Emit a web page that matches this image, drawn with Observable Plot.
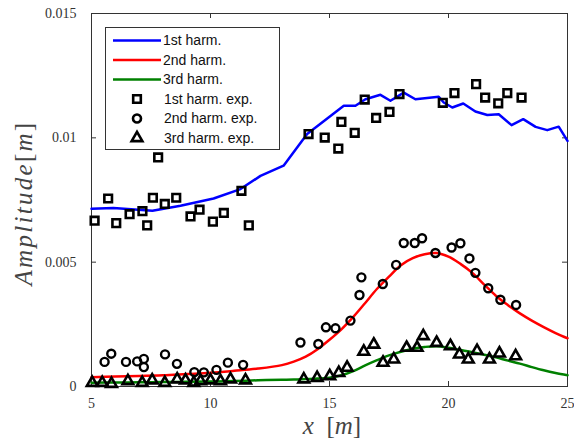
<!DOCTYPE html>
<html><head><meta charset="utf-8">
<script src="https://cdn.jsdelivr.net/npm/d3@7"></script>
<script src="https://cdn.jsdelivr.net/npm/@observablehq/plot@0.6"></script>
<style>body{margin:0;background:#fff}#chart{width:574px;height:445px}</style>
</head><body><div id="chart"></div>
<script>
// ---- data (amplitudes in m) ----
const xTicks = [5, 10, 15, 20, 25];
const yTicks = [0, 0.005, 0.01, 0.015];
const yTickLabels = ["0", "0.005", "0.01", "0.015"];

const sim1X = [5.0,5.92,7.56,8.74,10.13,11.26,12.10,13.07,14.06,15.60,16.09,16.51,17.14,17.56,18.12,18.61,19.59,19.80,20.16,20.62,21.13,21.63,22.11,22.65,23.14,23.66,24.15,24.63,25.0];
const sim1Y = [7.15,7.18,7.07,7.27,7.56,7.94,8.47,8.88,10.15,11.29,11.29,11.55,11.73,11.49,11.82,11.55,11.65,11.42,11.22,11.38,11.06,10.92,10.95,10.51,10.75,10.44,10.31,10.45,9.88].map(v => v / 1000);

const simX = [5,6,7,8,9,10,11,12,13,13.5,14,14.5,15,15.5,16,16.5,17,17.5,18,18.5,19,19.5,20,20.5,21,21.5,22,22.5,23,23.5,24,24.5,25];
const sim2Y = [0.37,0.40,0.42,0.45,0.50,0.55,0.63,0.72,0.86,1.00,1.20,1.50,1.88,2.30,2.80,3.36,3.93,4.42,4.88,5.16,5.32,5.37,5.22,4.93,4.57,4.10,3.64,3.27,2.94,2.65,2.39,2.15,1.94].map(v => v / 1000);
const sim3Y = [0.15,0.16,0.17,0.18,0.19,0.20,0.22,0.25,0.27,0.28,0.30,0.32,0.35,0.45,0.62,0.85,1.06,1.25,1.40,1.52,1.59,1.62,1.56,1.47,1.38,1.28,1.17,1.04,0.92,0.78,0.65,0.54,0.45].map(v => v / 1000);

const exp1X = [5.13,5.70,6.04,6.60,7.14,7.34,7.58,7.80,8.08,8.56,9.16,9.54,10.10,10.56,11.30,11.61,14.12,14.80,15.37,15.50,16.06,16.48,16.96,17.52,17.94,19.76,20.25,21.16,21.54,22.09,22.47,23.07];
const exp1Y = [6.67,7.56,6.57,6.93,7.05,6.48,7.59,9.21,7.34,7.59,6.84,7.11,6.63,6.98,7.87,6.48,10.15,10.01,9.57,10.64,10.20,11.54,10.80,11.04,11.76,11.41,11.80,12.16,11.62,11.39,11.80,11.62].map(v => v / 1000);

const exp2X = [5.55,5.83,6.45,6.92,7.20,7.20,8.09,8.59,9.32,9.72,10.25,10.73,11.37,13.78,14.53,14.85,15.25,15.88,16.26,16.34,17.24,17.80,18.12,18.58,18.89,19.45,20.13,20.50,20.88,21.13,21.67,22.18,22.84];
const exp2Y = [0.99,1.32,0.99,1.01,1.11,0.78,1.29,0.91,0.58,0.57,0.67,0.96,0.87,1.77,1.71,2.38,2.34,2.65,3.68,4.39,4.12,4.89,5.77,5.77,5.96,5.37,5.59,5.76,5.15,4.57,3.95,3.49,3.28].map(v => v / 1000);

const exp3X = [5.03,5.45,5.84,6.53,7.13,7.55,8.08,8.60,8.95,9.30,9.58,10.00,10.42,10.84,11.47,13.92,14.48,15.01,15.39,15.74,16.44,16.86,17.25,17.70,18.24,18.68,18.94,19.50,20.08,20.46,20.83,21.20,21.72,22.14,22.82];
const exp3Y = [0.15,0.15,0.11,0.22,0.15,0.25,0.15,0.29,0.25,0.15,0.22,0.25,0.22,0.29,0.25,0.29,0.35,0.42,0.55,0.76,1.40,1.69,0.96,1.09,1.56,1.56,2.03,1.76,1.63,1.29,1.09,1.43,1.09,1.33,1.22].map(v => v / 1000);

const legendLabels = ["1st harm.", "2nd harm.", "3rd harm.", "1st harm. exp.", "2nd harm. exp.", "3rd harm. exp."];
const lineColors = ["#0000ff", "#ff0000", "#008000"];
const symbols = ["square", "circle", "triangle"];
const xLabel = "x [m]";
const yLabel = "Amplitude[m]";

// ---- build ----
const zip = (xs, ys) => xs.map((x, i) => ({x, y: ys[i]}));
const W = 574, H = 445, mL = 91, mR = 7, mT = 13, mB = 59;
const plotW = W - mL - mR, plotH = H - mT - mB, tk = 5;
const axisCol = "#333";

const chart = Plot.plot({
  width: W, height: H,
  marginLeft: mL, marginRight: mR, marginTop: mT, marginBottom: mB,
  x: {domain: [5, 25], label: null},
  y: {domain: [0, 0.015], label: null},
  style: {fontFamily: "Liberation Serif", fontSize: "14px", color: axisCol, background: "#fff"},
  marks: [
    Plot.frame({stroke: axisCol, strokeWidth: 1}),
    Plot.tickX(xTicks, {x: d => d, insetTop: plotH - tk, stroke: axisCol}),
    Plot.tickX(xTicks, {x: d => d, insetBottom: plotH - tk, stroke: axisCol}),
    Plot.tickY(yTicks, {y: d => d, insetRight: plotW - tk, stroke: axisCol}),
    Plot.tickY(yTicks, {y: d => d, insetLeft: plotW - tk, stroke: axisCol}),
    Plot.axisX({ticks: xTicks, tickSize: 0, tickPadding: 12, tickFormat: d => String(d), fill: axisCol}),
    Plot.axisY({ticks: yTicks, tickSize: 0, tickPadding: 15, tickFormat: d => yTickLabels[yTicks.indexOf(d)], fill: axisCol}),
    Plot.line(zip(sim1X, sim1Y), {x: "x", y: "y", stroke: lineColors[0], strokeWidth: 2.5}),
    Plot.line(zip(simX, sim2Y), {x: "x", y: "y", stroke: lineColors[1], strokeWidth: 2.5, curve: "catmull-rom"}),
    Plot.line(zip(simX, sim3Y), {x: "x", y: "y", stroke: lineColors[2], strokeWidth: 2.5, curve: "catmull-rom"}),
    Plot.dot(zip(exp1X, exp1Y), {x: "x", y: "y", symbol: symbols[0], r: 4.3, stroke: "#000", strokeWidth: 2.6, fill: "none"}),
    Plot.dot(zip(exp2X, exp2Y), {x: "x", y: "y", symbol: symbols[1], r: 4, stroke: "#000", strokeWidth: 2.4, fill: "none"}),
    Plot.dot(zip(exp3X, exp3Y), {x: "x", y: "y", symbol: symbols[2], r: 4, stroke: "#000", strokeWidth: 2.6, fill: "none"}),
    Plot.text([yLabel], {text: d => d, frameAnchor: "left", dx: -68, dy: 4, rotate: -90, fontSize: 25, fontStyle: "italic", fontFamily: "Liberation Serif", fill: "#444"}),
    Plot.text([xLabel], {text: d => d, frameAnchor: "bottom", dx: 2, dy: 47, fontSize: 25, fontStyle: "italic", fontFamily: "Liberation Serif", fill: "#444"})
  ]
});
document.getElementById("chart").appendChild(chart);

const svg = d3.select(chart);
// mixed-style math labels, stretched to the reference's label lengths
svg.selectAll("text").each(function() {
  const t = this.textContent;
  if (t === yLabel || t === xLabel) {
    const isY = t === yLabel;
    const parts = isY
      ? [["Amplitude", "italic"], ["[", "normal"], ["m", "italic"], ["]", "normal"]]
      : [["x", "italic"], ["\u00a0\u00a0[", "normal"], ["m", "italic"], ["]", "normal"]];
    const el = d3.select(this);
    el.text(null).attr("text-anchor", "start").attr("x", 0);
    parts.forEach(([s, st]) => el.append("tspan").attr("font-style", st).text(s));
    const target = isY ? 167 : 58;
    const nChars = isY ? 12 : 6;
    const w0 = this.getBBox().width;
    el.attr("letter-spacing", Math.max(0, (target - w0) / nChars));
    const bb = this.getBBox();
    el.attr("x", -(bb.x + bb.width / 2));
  }
});

// legend
const lg = svg.append("g").attr("font-family", "Liberation Sans, Arial, sans-serif").attr("font-size", 14).attr("text-anchor", "start");
lg.append("rect").attr("x", 105.5).attr("y", 27.5).attr("width", 174).attr("height", 122)
  .attr("fill", "#fff").attr("stroke", axisCol).attr("stroke-width", 1);
const rowY = [40.5, 60, 79.5, 99, 118.5, 138];
legendLabels.forEach((lab, i) => {
  const y = rowY[i];
  if (i < 3) {
    lg.append("line").attr("x1", 113).attr("x2", 161).attr("y1", y).attr("y2", y)
      .attr("stroke", lineColors[i]).attr("stroke-width", 2.5);
  } else {
    const sym = [d3.symbolSquare, d3.symbolCircle, d3.symbolTriangle][i - 3];
    const r = i === 3 ? 4.3 : 4;
    lg.append("path").attr("d", d3.symbol(sym, Math.PI * r * r)())
      .attr("transform", `translate(137,${y})`)
      .attr("fill", "none").attr("stroke", "#000").attr("stroke-width", 2.6);
  }
  lg.append("text").attr("x", i < 3 ? 163 : 164).attr("y", y).attr("dy", "0.35em")
    .attr("fill", "#111").text(lab);
});
</script>
</body></html>
